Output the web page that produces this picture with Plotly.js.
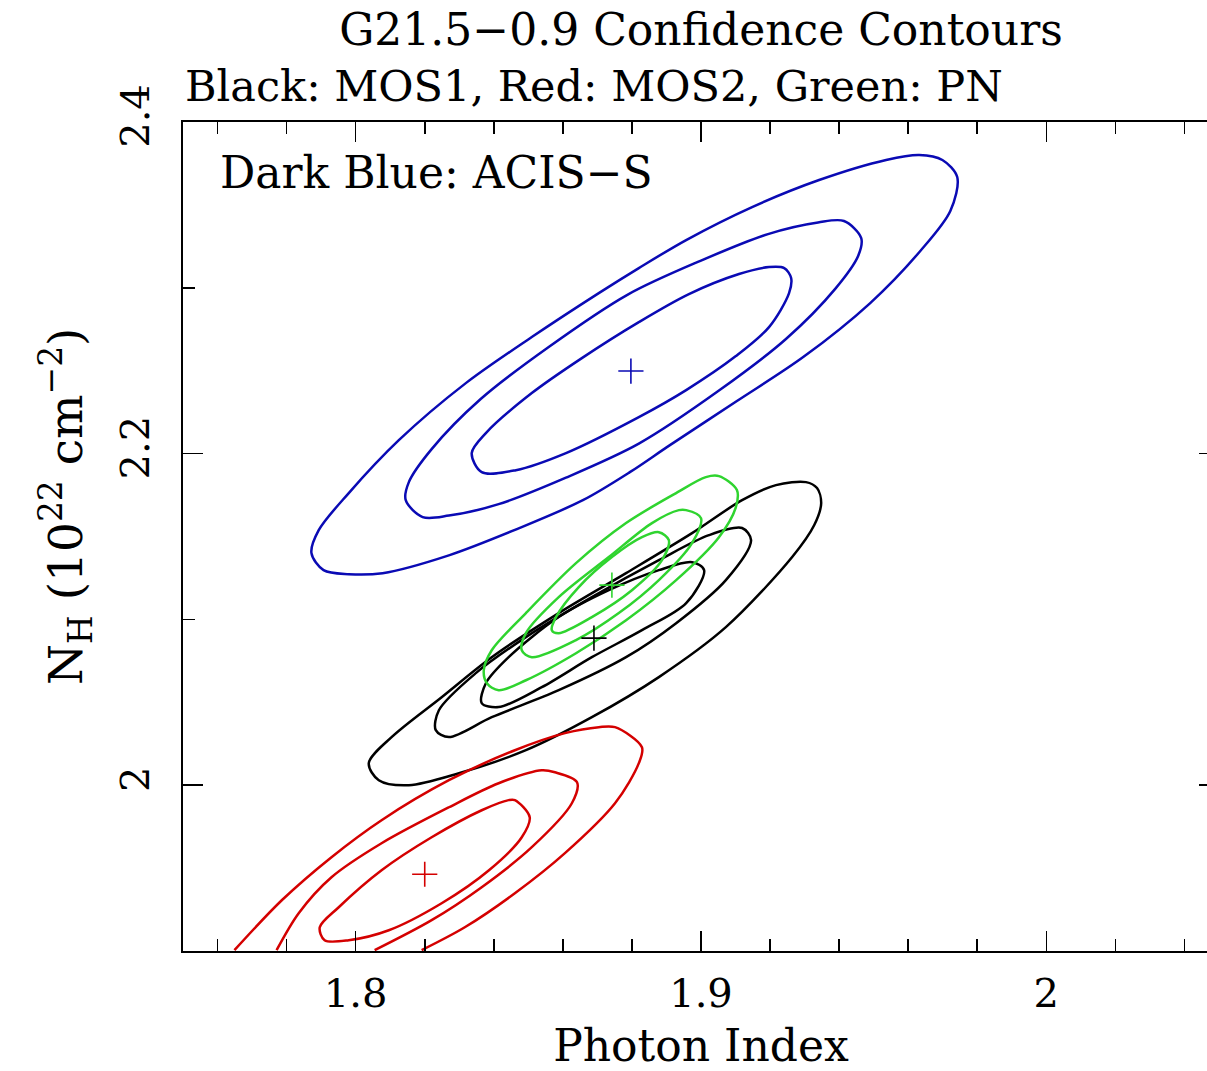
<!DOCTYPE html>
<html>
<head>
<meta charset="utf-8">
<script src="https://cdn.plot.ly/plotly-3.0.1.min.js"></script>
<style>
html, body { margin: 0; padding: 0; overflow: hidden; background: #fff; }
#chart { width: 1230px; height: 1071px; }
</style>
</head>
<body>
<div id="chart"></div>
<script>
// ---- Data (Photon Index, NH in 1e22 cm^-2) ----
const xTickVals = [1.8, 1.9, 2.0];
const yTickVals = [2.0, 2.2, 2.4];

// Best-fit centres: ACIS-S, MOS1, PN, MOS2
const centerX = [1.8797, 1.869, 1.8742, 1.820];
const centerY = [2.2498, 2.0887, 2.1207, 1.9463];
const centerColors = ['#0a0ab4', '#000000', '#2fd42f', '#d40000'];

// ACIS-S (dark blue)
const blueOuterX = [1.7872, 1.7893, 1.7980, 1.8125, 1.8319, 1.8510, 1.8704, 1.8820, 1.8957, 1.9148, 1.9342, 1.9536, 1.9632, 1.9699, 1.9742, 1.9722, 1.9635, 1.9490, 1.9296, 1.9104, 1.8910, 1.8794, 1.8658, 1.8467, 1.8272, 1.8078, 1.7980, 1.7907, 1.7872];
const blueOuterY = [2.1400, 2.1538, 2.1762, 2.2081, 2.2425, 2.2703, 2.2968, 2.3119, 2.3288, 2.3487, 2.3650, 2.3771, 2.3801, 2.3771, 2.3668, 2.3463, 2.3222, 2.2908, 2.2582, 2.2317, 2.2051, 2.1888, 2.1719, 2.1545, 2.1388, 2.1279, 2.1273, 2.1297, 2.1400];
const blueMidX = [1.8145, 1.8154, 1.8220, 1.8362, 1.8557, 1.8788, 1.9000, 1.9194, 1.9339, 1.9414, 1.9464, 1.9455, 1.9388, 1.9246, 1.9052, 1.8820, 1.8609, 1.8414, 1.8270, 1.8194, 1.8145];
const blueMidY = [2.1719, 2.1828, 2.2027, 2.2329, 2.2640, 2.2959, 2.3164, 2.3324, 2.3394, 2.3403, 2.3300, 2.3192, 2.2992, 2.2691, 2.2380, 2.2060, 2.1855, 2.1695, 2.1626, 2.1617, 2.1719];
const blueInX = [1.8336, 1.8377, 1.8510, 1.8655, 1.8820, 1.8965, 1.9110, 1.9197, 1.9241, 1.9261, 1.9255, 1.9197, 1.9101, 1.8957, 1.8820, 1.8609, 1.8464, 1.8365, 1.8336];
const blueInY = [2.2003, 2.2124, 2.2365, 2.2576, 2.2793, 2.2962, 2.3083, 2.3125, 2.3119, 2.3059, 2.2968, 2.2763, 2.2588, 2.2383, 2.2220, 2.2003, 2.1900, 2.1888, 2.2003];

// MOS1 (black)
const blackOuterX = [1.8038, 1.8104, 1.8249, 1.8394, 1.8588, 1.8783, 1.8974, 1.9119, 1.9217, 1.9304, 1.9336, 1.9348, 1.9328, 1.9264, 1.9072, 1.8878, 1.8684, 1.8493, 1.8299, 1.8154, 1.8067, 1.8038];
const blackOuterY = [2.0133, 2.0290, 2.0531, 2.0772, 2.1038, 2.1279, 2.1520, 2.1719, 2.1810, 2.1828, 2.1792, 2.1701, 2.1569, 2.1376, 2.0953, 2.0652, 2.0410, 2.0211, 2.0072, 2.0000, 2.0030, 2.0133];
const blackMidX = [1.8241, 1.8348, 1.8493, 1.8684, 1.8878, 1.9023, 1.9119, 1.9145, 1.9072, 1.8928, 1.8783, 1.8588, 1.8394, 1.8270, 1.8232, 1.8241];
const blackMidY = [2.0452, 2.0676, 2.0893, 2.1134, 2.1357, 2.1508, 2.1551, 2.1478, 2.1237, 2.0977, 2.0772, 2.0573, 2.0410, 2.0290, 2.0332, 2.0452];
const blackInX = [1.8377, 1.8443, 1.8588, 1.8733, 1.8878, 1.8974, 1.9009, 1.8957, 1.8829, 1.8684, 1.8539, 1.8414, 1.8365, 1.8377];
const blackInY = [2.0615, 2.0772, 2.1014, 2.1176, 2.1297, 2.1345, 2.1297, 2.1098, 2.0935, 2.0772, 2.0591, 2.0471, 2.0495, 2.0615];

// PN (green)
const greenOuterX = [1.8371, 1.8394, 1.8493, 1.8638, 1.8783, 1.8928, 1.9014, 1.9052, 1.9104, 1.9101, 1.9052, 1.8928, 1.8783, 1.8638, 1.8493, 1.8414, 1.8380, 1.8371];
const greenOuterY = [2.0694, 2.0814, 2.1038, 2.1339, 2.1581, 2.1762, 2.1858, 2.1864, 2.1780, 2.1677, 2.1496, 2.1237, 2.0995, 2.0796, 2.0633, 2.0573, 2.0615, 2.0694];
const greenMidX = [1.8493, 1.8588, 1.8733, 1.8858, 1.8936, 1.8957, 1.9000, 1.8974, 1.8878, 1.8762, 1.8638, 1.8510, 1.8481, 1.8493];
const greenMidY = [2.0917, 2.1134, 2.1376, 2.1581, 2.1659, 2.1659, 2.1611, 2.1460, 2.1237, 2.1038, 2.0875, 2.0772, 2.0814, 2.0917];
const greenInX = [1.8580, 1.8646, 1.8742, 1.8829, 1.8878, 1.8907, 1.8887, 1.8800, 1.8684, 1.8588, 1.8568, 1.8580];
const greenInY = [2.1014, 2.1195, 2.1376, 2.1496, 2.1526, 2.1478, 2.1357, 2.1176, 2.1014, 2.0917, 2.0935, 2.1014];

// MOS2 (red) - outer two contours run off the bottom of the plot
const redOuterX = [1.7649, 1.7786, 1.7930, 1.8075, 1.8270, 1.8461, 1.8606, 1.8704, 1.8751, 1.8829, 1.8820, 1.8751, 1.8606, 1.8461, 1.8316, 1.8191];
const redOuterY = [1.9005, 1.9306, 1.9566, 1.9789, 2.0030, 2.0211, 2.0314, 2.0350, 2.0350, 2.0229, 2.0133, 1.9891, 1.9590, 1.9348, 1.9143, 1.9005];
const redMidX = [1.7771, 1.7835, 1.7930, 1.8075, 1.8270, 1.8414, 1.8539, 1.8577, 1.8641, 1.8626, 1.8510, 1.8365, 1.8220, 1.8055];
const redMidY = [1.9005, 1.9228, 1.9445, 1.9650, 1.9867, 2.0012, 2.0090, 2.0078, 2.0018, 1.9891, 1.9626, 1.9385, 1.9186, 1.9005];
const redInX = [1.7896, 1.7951, 1.8075, 1.8220, 1.8365, 1.8443, 1.8461, 1.8504, 1.8481, 1.8386, 1.8249, 1.8096, 1.7980, 1.7910, 1.7896];
const redInY = [1.9143, 1.9264, 1.9487, 1.9686, 1.9849, 1.9910, 1.9910, 1.9807, 1.9686, 1.9487, 1.9288, 1.9125, 1.9065, 1.9065, 1.9143];

const BLUE = '#0a0ab4', BLACK = '#000000', RED = '#d40000', GREEN = '#2fd42f';
const contours = [
  [blueOuterX, blueOuterY, BLUE], [blueMidX, blueMidY, BLUE], [blueInX, blueInY, BLUE],
  [blackOuterX, blackOuterY, BLACK], [blackMidX, blackMidY, BLACK], [blackInX, blackInY, BLACK],
  [redOuterX, redOuterY, RED], [redMidX, redMidY, RED], [redInX, redInY, RED],
  [greenOuterX, greenOuterY, GREEN], [greenMidX, greenMidY, GREEN], [greenInX, greenInY, GREEN]
];

const traces = contours.map(c => ({
  x: c[0], y: c[1], type: 'scatter', mode: 'lines',
  line: { color: c[2], width: 2.5, shape: 'spline', smoothing: 0.9 },
  hoverinfo: 'skip', showlegend: false
}));
traces.push({
  x: centerX, y: centerY, type: 'scatter', mode: 'markers',
  marker: { symbol: 'cross-thin', size: 18, color: centerColors, line: { color: centerColors, width: 1.6 } },
  showlegend: false
});

const FONT = 'DejaVu Serif';
const axisCommon = {
  showline: true, linecolor: '#000', linewidth: 2, mirror: 'allticks',
  ticks: 'inside', ticklen: 20, tickwidth: 1.6, tickcolor: '#000',
  showgrid: false, zeroline: false,
  tickfont: { family: FONT, size: 40, color: '#000' }
};

const layout = {
  width: 1230, height: 1071,
  margin: { l: 183, r: 11, t: 122, b: 120 },
  paper_bgcolor: '#fff', plot_bgcolor: '#fff',
  font: { family: FONT, color: '#000' },
  title: {
    text: 'G21.5−0.9 Confidence Contours',
    font: { family: FONT, size: 44, color: '#000' },
    x: 0.5, xref: 'paper', xanchor: 'center',
    y: 1 - 30 / 1071, yref: 'container', yanchor: 'middle'
  },
  xaxis: Object.assign({}, axisCommon, {
    range: [1.75, 2.05], tickvals: xTickVals, ticklabelstandoff: 6,
    minor: { dtick: 0.02, tick0: 1.76, ticks: 'inside', ticklen: 12, tickwidth: 1.6, tickcolor: '#000', showgrid: false },
    title: { text: 'Photon Index', font: { family: FONT, size: 44, color: '#000' }, standoff: 37 }
  }),
  yaxis: Object.assign({}, axisCommon, {
    range: [1.9, 2.4], tickvals: yTickVals, tickangle: -90, ticklabelstandoff: 16,
    minor: { dtick: 0.1, tick0: 2.1, ticks: 'inside', ticklen: 12, tickwidth: 1.6, tickcolor: '#000', showgrid: false }
  }),
  annotations: [
    { text: 'Black: MOS1, Red: MOS2, Green: PN', xref: 'paper', yref: 'paper',
      x: 0, y: (951 - 86) / 829, xanchor: 'left', yanchor: 'middle', showarrow: false,
      font: { family: FONT, size: 43, color: '#000' } },
    { text: 'Dark Blue: ACIS−S', xref: 'paper', yref: 'paper',
      x: (218 - 183) / 1036, y: (951 - 172) / 829, xanchor: 'left', yanchor: 'middle', showarrow: false,
      font: { family: FONT, size: 44, color: '#000' } },
    { text: 'N<sub>H</sub> (10<sup>22</sup> cm<sup>−2</sup>)', xref: 'paper', yref: 'paper',
      x: (65 - 183) / 1036, y: (951 - 507) / 829, xanchor: 'center', yanchor: 'middle',
      textangle: -90, showarrow: false,
      font: { family: FONT, size: 47, color: '#000' } }
  ]
};

Plotly.newPlot('chart', traces, layout, { displayModeBar: false, staticPlot: true });
</script>
</body>
</html>
